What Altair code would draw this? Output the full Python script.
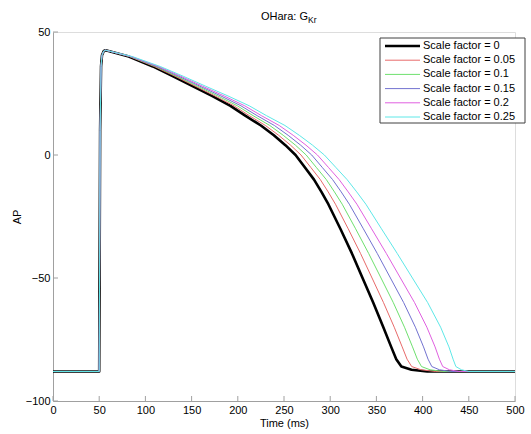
import altair as alt
import pandas as pd

SERIES = ["Scale factor = 0", "Scale factor = 0.05", "Scale factor = 0.1",
          "Scale factor = 0.15", "Scale factor = 0.2", "Scale factor = 0.25"]
COLORS = ["#000000", "#e86a6a", "#6ee06e", "#7272d0", "#e060e0", "#5ee8e8"]

# resting + upstroke (shared by all series)
UP_T = [0, 50, 51, 52, 53, 55]
UP_V = [-88, -88, 10, 36, 40.5, 42.3]

# membrane potential levels during repolarisation, and the time (ms) each series reaches them
LEVELS = [42.6, 40, 36, 32, 28, 24, 20, 16, 12, 8, 4, 0, -5, -10, -15, -20,
          -30, -40, -50, -60, -70, -78, -83, -86, -87.3, -88]
T_SF0 = [57, 82, 108, 130, 151, 172, 192, 208, 225, 239, 251.5, 262.5, 272.5, 282.5, 290.5, 298,
         311, 323.5, 335, 346.5, 357.5, 366, 371.5, 377, 388, 405]
T_SF005 = [57, 82.8, 109.5, 132.1, 153.7, 175.3, 195.9, 212.4, 229.9, 244.2, 257.1, 268.4, 278.9, 289.3, 297.8, 305.7,
           319.5, 332.8, 345.3, 357.7, 369.3, 377.9, 383.2, 388.2, 398.3, 413.6]
T_SF01 = [57, 83.5, 111, 134.1, 156.2, 178.4, 199.5, 216.5, 234.6, 249.2, 262.4, 274, 284.9, 295.8, 304.6, 313,
          327.5, 341.6, 355, 368.3, 380.4, 389.1, 394.3, 398.8, 408, 421.7]
T_SF015 = [57, 84.2, 112.5, 136.2, 158.8, 181.7, 203.4, 220.9, 239.6, 254.5, 268, 280, 291.3, 302.6, 311.9, 320.7,
           335.9, 350.9, 365.2, 379.5, 392.2, 401, 405.9, 410, 418.2, 430.2]
T_SF02 = [57, 85, 114.1, 138.4, 161.6, 185.2, 207.5, 225.5, 244.8, 260, 273.8, 286.2, 298, 309.7, 319.5, 328.9,
          344.8, 360.7, 376, 391.3, 404.6, 413.5, 418.2, 421.8, 429, 439.2]
T_SF025 = [57, 86, 116, 141, 165, 189.4, 212.4, 231, 251, 266.6, 280.9, 293.7, 306, 318.3, 328.7, 338.6,
           355.5, 372.5, 389, 405.5, 419.5, 428.5, 433, 436, 442, 450]
END_T = 500
REST_V = -88

X_TICKS = list(range(0, 501, 50))
Y_TICKS = [-100, -50, 0, 50]

W, H = 462, 369
FONT = "Liberation Sans"
AXIS_GRAY = "#a0a0a0"

rows = []
for name, times in zip(SERIES, [T_SF0, T_SF005, T_SF01, T_SF015, T_SF02, T_SF025]):
    ts = UP_T + times + [END_T]
    vs = UP_V + LEVELS + [REST_V]
    for i, (t, v) in enumerate(zip(ts, vs)):
        rows.append({"series": name, "t": t, "v": v, "i": i})
df = pd.DataFrame(rows)

xscale = alt.Scale(domain=[0, 500], nice=False, zero=False)
yscale = alt.Scale(domain=[-100, 50], nice=False, zero=False)
cscale = alt.Scale(domain=SERIES, range=COLORS)

xaxis = alt.Axis(values=X_TICKS, tickSize=0, domainColor=AXIS_GRAY, labelColor="black",
                 labelFont=FONT, labelFontSize=11, labelPadding=3, grid=False,
                 title="Time (ms)", titleFont=FONT, titleFontSize=11, titleFontWeight="normal",
                 titlePadding=2, titleColor="black", labelFlush=False)
yaxis = alt.Axis(values=Y_TICKS, tickSize=0, domainColor=AXIS_GRAY, labelColor="black",
                 labelFont=FONT, labelFontSize=11, labelPadding=3, grid=False,
                 title="AP", titleFont=FONT, titleFontSize=11, titleFontWeight="normal",
                 titlePadding=3, titleColor="black")

X = alt.X("t:Q", scale=xscale, axis=xaxis)

base = alt.Chart(df)

black = base.transform_filter(alt.datum.series == SERIES[0]).mark_line(
    strokeWidth=2.6, strokeJoin="round", clip=True
).encode(
    x=X,
    y=alt.Y("v:Q", scale=yscale, axis=yaxis),
    color=alt.Color("series:N", scale=cscale, legend=None),
    order="i:Q",
)

others = base.transform_filter(alt.datum.series != SERIES[0]).mark_line(
    strokeWidth=1, strokeJoin="round", clip=True
).encode(
    x=X,
    y=alt.Y("v:Q", scale=yscale, axis=None),
    color=alt.Color("series:N", scale=cscale, legend=None),
    detail="series:N",
    order="i:Q",
)

xt = alt.Chart(pd.DataFrame({"t": X_TICKS})).mark_rule(color=AXIS_GRAY, strokeWidth=1).encode(
    x=X, y=alt.value(H), y2=alt.value(H - 5)
)
yt = alt.Chart(pd.DataFrame({"v": Y_TICKS})).mark_rule(color=AXIS_GRAY, strokeWidth=1).encode(
    y=alt.Y("v:Q", scale=yscale, axis=None), x=alt.value(0), x2=alt.value(5)
)

one = pd.DataFrame({"a": [0]})
title_main = alt.Chart(one).mark_text(text="OHara: G", font=FONT, fontSize=11, align="right",
                                      baseline="alphabetic", color="black").encode(
    x=alt.value(255), y=alt.value(-12))
title_sub = alt.Chart(one).mark_text(text="Kr", font=FONT, fontSize=8.5, align="left",
                                     baseline="alphabetic", color="black").encode(
    x=alt.value(255), y=alt.value(-9))

leg_df = pd.DataFrame({"series": SERIES})
leg_box = alt.Chart(one).mark_rect(fill="white", stroke="#404040", strokeWidth=1).encode(
    x=alt.value(327), x2=alt.value(472), y=alt.value(6), y2=alt.value(91))
leg_y = alt.Y("series:N", scale=alt.Scale(type="point", domain=SERIES, range=[14, 85], padding=0), axis=None)
leg_lines = alt.Chart(leg_df).mark_rule().encode(
    x=alt.value(332), x2=alt.value(367), y=leg_y,
    color=alt.Color("series:N", scale=cscale, legend=None),
    strokeWidth=alt.condition(alt.datum.series == SERIES[0], alt.value(2.6), alt.value(1)),
)
leg_text = alt.Chart(leg_df).mark_text(font=FONT, fontSize=11, align="left", baseline="middle",
                                       color="black").encode(
    x=alt.value(370), y=leg_y, text="series:N")

chart = alt.layer(black, others, xt, yt, title_main, title_sub, leg_box, leg_lines, leg_text).resolve_scale(
    y="independent"
).properties(
    width=W, height=H,
    autosize=alt.AutoSizeParams(type="none"),
    padding={"left": 53, "top": 32, "right": 16, "bottom": 33},
).configure_view(strokeWidth=0).configure(background="white")

chart.save("out.html", embed_options={"renderer": "svg", "actions": False})
